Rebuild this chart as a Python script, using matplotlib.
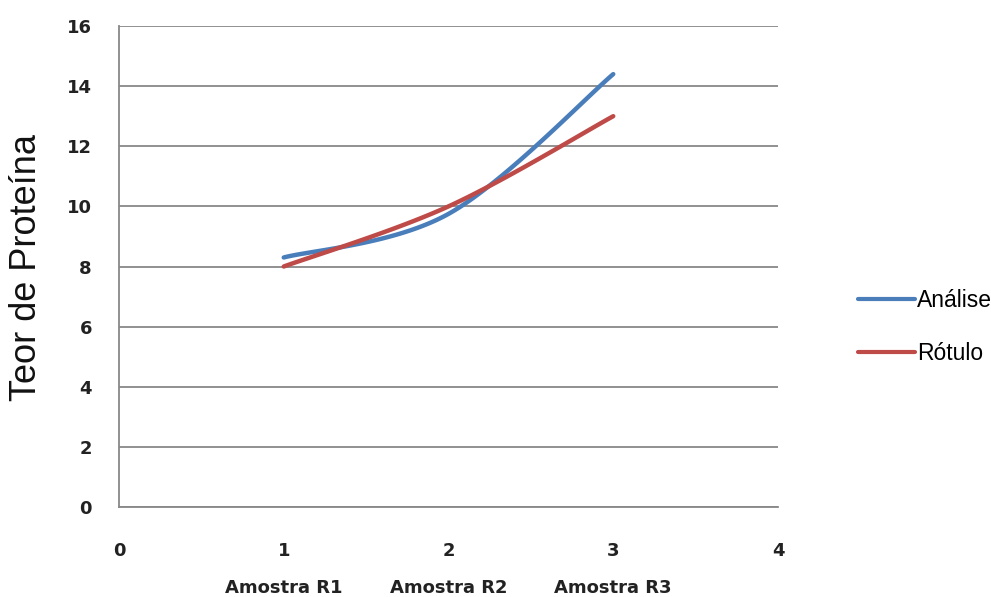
import numpy as np
import matplotlib
matplotlib.use("Agg")
import matplotlib.pyplot as plt
import matplotlib.transforms as mtransforms

# Data
x_pos = [1, 2, 3]
categories = ["Amostra R1", "Amostra R2", "Amostra R3"]
analise = [8.3, 9.75, 14.4]
rotulo = [8.0, 10.0, 13.0]
series_names = ["Análise", "Rótulo"]
colors = ["#4A7EBB", "#BE4B48"]
y_ticks = [0, 2, 4, 6, 8, 10, 12, 14, 16]
x_ticks = [0, 1, 2, 3, 4]


def smooth(xs, ys, n=60):
    """Excel-style smoothed line (Catmull-Rom Bezier through the points)."""
    P = np.column_stack([xs, ys]).astype(float)
    m = len(P)
    out = []
    for i in range(m - 1):
        p0 = P[i - 1] if i > 0 else P[i]
        p1 = P[i]
        p2 = P[i + 1]
        p3 = P[i + 2] if i + 2 < m else P[i + 1]
        c1 = p1 + (p2 - p0) / 6.0
        c2 = p2 - (p3 - p1) / 6.0
        t = np.linspace(0, 1, n)[:, None]
        seg = ((1 - t) ** 3) * p1 + 3 * ((1 - t) ** 2) * t * c1 + 3 * (1 - t) * t ** 2 * c2 + t ** 3 * p2
        out.append(seg if i == 0 else seg[1:])
    pts = np.vstack(out)
    return pts[:, 0], pts[:, 1]


fig = plt.figure(figsize=(9.91, 5.97), dpi=100)
ax = fig.add_axes([119 / 991, 90 / 597, (778 - 119) / 991, (507 - 26) / 597])

grid_color = "#888888"
for s, name, c in zip([analise, rotulo], series_names, colors):
    sx, sy = smooth(x_pos, s)
    ax.plot(sx, sy, color=c, lw=3.2, solid_capstyle="round", label=name, zorder=3)

ax.set_xlim(0, 4)
ax.set_ylim(0, 16)
ax.set_yticks(y_ticks)
ax.set_xticks(x_ticks)
ax.yaxis.grid(True, color=grid_color, lw=1.3)
ax.set_axisbelow(True)
for sp in ["top", "right"]:
    ax.spines[sp].set_visible(False)
for sp in ["left", "bottom"]:
    ax.spines[sp].set_color(grid_color)
    ax.spines[sp].set_linewidth(1.3)
ax.tick_params(length=0)
ax.tick_params(axis="y", pad=19.5)
ax.tick_params(axis="x", pad=25)
for lab in ax.get_xticklabels() + ax.get_yticklabels():
    lab.set_fontfamily("DejaVu Sans")
    lab.set_fontweight("bold")
    lab.set_fontsize(13)
    lab.set_color("#222222")

trans = mtransforms.blended_transform_factory(ax.transData, fig.transFigure)
for xp, cat in zip(x_pos, categories):
    ax.text(xp, 1 - 588 / 597, cat, transform=trans, ha="center", va="center",
            fontsize=13, fontweight="bold", family="DejaVu Sans", color="#222222")

fig.text(27 / 991, 1 - 267 / 597, "Teor de Proteína", rotation=90, ha="center", va="center",
         fontsize=26, family="Liberation Sans", color="#111111")

leg = fig.legend(loc="center left", bbox_to_anchor=(837 / 991, 1 - 327 / 597), frameon=False,
                 prop={"family": "Liberation Sans", "size": 16.5}, handlelength=2.5,
                 handletextpad=0.1, labelspacing=1.3)
for line in leg.get_lines():
    line.set_linewidth(3)

fig.savefig("out.png", dpi=100)
